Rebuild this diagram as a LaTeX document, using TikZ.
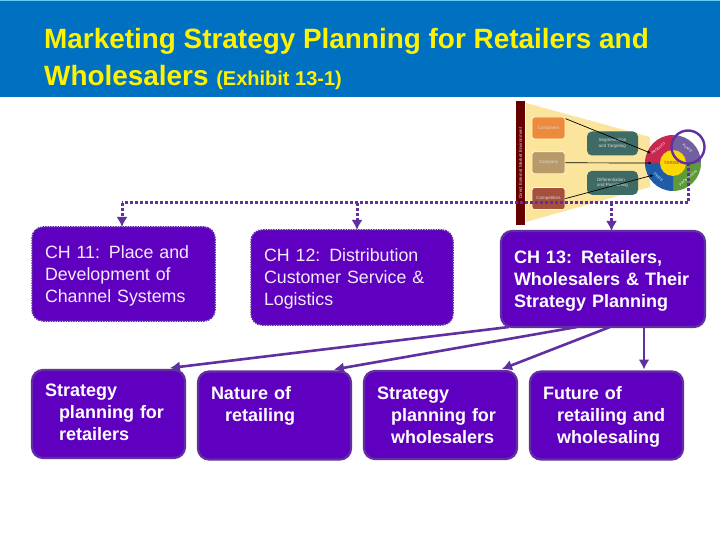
\documentclass[tikz,border=0pt]{standalone}
\usepackage{fontspec}
\setmainfont{Liberation Sans}
\usepackage{xcolor}
\usetikzlibrary{arrows.meta, calc, positioning, shapes.geometric}
\definecolor{bandblue}{HTML}{0070C0}
\definecolor{boxfill}{HTML}{5F00C0}
\definecolor{boxline}{HTML}{6030A0}
\definecolor{funnel}{HTML}{FBE49C}
\definecolor{slate}{HTML}{3F6B66}
\definecolor{custfill}{HTML}{EE8A3C}
\definecolor{compfill}{HTML}{B89A6A}
\definecolor{rivalfill}{HTML}{A64F3C}
\definecolor{wheelred}{HTML}{C8284F}
\definecolor{wheelviolet}{HTML}{7060A0}
\definecolor{wheelgreen}{HTML}{5F9A3A}
\definecolor{wheelblue}{HTML}{1F5CA8}
\tikzstyle{chbox} = [%
  rectangle,
  rounded corners=11pt,
  fill=boxfill,
  outer sep=0pt,
  text=white,
  align=left,
  inner xsep=13pt,
  inner ysep=0pt,
  execute at begin node={\rule{0pt}{17pt}},
  execute at end node={\rule[-4.4pt]{0pt}{5pt}}
]
\tikzstyle{chdot} = [%
  chbox,
  draw=boxline,
  line width=1.5pt,
  dash pattern=on 1.5pt off 1pt,
  text=white!92!boxfill,
  font=\fontsize{17.8}{22}\selectfont
]
\tikzstyle{chsolid} = [%
  chbox,
  draw=boxline,
  line width=2.2pt,
  font=\fontsize{18}{22}\bfseries\selectfont
]
\tikzstyle{subbox} = [%
  chsolid,
  minimum width=153pt,
  text width=127pt,
  minimum height=88pt,
  execute at begin node={\rule{0pt}{14pt}},
  execute at end node={\rule[-5pt]{0pt}{6pt}}
]
\tikzstyle{minibox} = [%
  rectangle,
  rounded corners=2.5pt,
  minimum width=33pt,
  minimum height=22pt,
  inner sep=0pt,
  text=white!85!black,
  font=\fontsize{4.5}{5.5}\selectfont,
  draw=white!80!yellow,
  line width=0.8pt
]
\tikzstyle{slatebox} = [%
  minibox,
  fill=slate,
  draw=none,
  minimum width=51pt,
  minimum height=24pt,
  align=left,
  rounded corners=5pt
]
\tikzstyle{wheeltext} = [%
  text=white,
  inner sep=0pt,
  font=\fontsize{3.5}{4}\selectfont
]

\begin{document}
\begin{tikzpicture}[%
  x=1pt,
  y=1pt,
  >={Latex[length=10pt,width=11pt]},
  link/.style={->,draw=boxline,line width=2.6pt},
  dotlink/.style={draw=boxline,line width=3pt,dash pattern=on 3pt off 2pt},
  thin arrow/.style={-{Latex[length=3pt,width=3pt]},draw=black,line width=0.7pt}
]

  \useasboundingbox (0,0) rectangle (720,-540);

  % Header
  \fill[bandblue] (0,0) rectangle (720,-97);
  \fill[cyan!60!white] (0,0) rectangle (720,-1);
  \node[anchor=north west,inner sep=0pt,text=yellow,align=left,
    font=\fontsize{27.9}{37}\bfseries\selectfont] (title) at (44,-28)
    {Marketing Strategy Planning for Retailers and\\
     Wholesalers {\fontsize{20}{37}\selectfont (Exhibit 13-1)}};

  % Strategy picture
  \fill[funnel] (526,-103) -- (650,-137) -- (650,-187) -- (526,-222) -- cycle;
  \node[rectangle,fill=red!40!black,minimum width=9pt,minimum height=124pt,inner sep=0pt,
    text=white!85!black,font=\fontsize{4.5}{5}\selectfont] (env) at (520.5,-163)
    {\rotatebox{90}{Direct External Market Environment}};
  \node[minibox,fill=custfill] (cust) at (548.5,-128) {Customers};
  \node[minibox,fill=compfill,below=12pt of cust] (comp) {Company};
  \node[minibox,fill=rivalfill,below=13pt of comp] (rivals) {Competitors};
  \node[slatebox] (seg) at (612.5,-143.5) {Segmentation\\and Targeting};
  \node[slatebox,below=14.5pt of seg] (diff) {Differentiation\\and Positioning};
  \coordinate (hub) at (673,-163);
  \foreach \ang/\col in {90/wheelred, 0/wheelviolet, 270/wheelgreen, 180/wheelblue} {
    \fill[\col] (hub) -- ++(\ang:28) arc[start angle=\ang,delta angle=90,radius=28] -- cycle;
  }
  \node[circle,fill=yellow!75!orange,minimum size=26pt,inner sep=0pt,text=orange!80!black,
    font=\fontsize{4.5}{5}\bfseries\selectfont] (target) at (hub) {TARGET};
  \node[wheeltext,rotate=40] (prod) at ($(hub)+(135:20.5)$) {PRODUCT};
  \node[wheeltext,rotate=-40] (place) at ($(hub)+(45:20.5)$) {PLACE};
  \node[wheeltext,rotate=-40] (price) at ($(hub)+(225:20.5)$) {PRICE};
  \node[wheeltext,rotate=40] (promo) at ($(hub)+(315:21.5)$) {PROMOTION};
  \node[circle,draw=boxline,line width=2.4pt,minimum size=33pt,inner sep=0pt,outer sep=0pt] (ring) at (688,-147) {};
  \draw[thin arrow] ([yshift=-2pt]cust.north east) to (prod.north west);
  \draw[thin arrow] (comp.east) to (hub -| prod.west);
  \draw[thin arrow] (rivals.east) to (price.south west);

  % Nodes
  \node[chdot,minimum width=183pt,text width=157pt,minimum height=94pt] (ch11) at (123.5,-274)
    {CH 11:  Place and\\Development of\\Channel Systems};
  \node[chdot,minimum width=202pt,text width=176pt,minimum height=95pt,right=36pt of ch11,yshift=-3.5pt] (ch12)
    {CH 12:  Distribution\\Customer Service \&\\Logistics};
  \node[chsolid,minimum width=204pt,text width=178pt,minimum height=96pt,right=48pt of ch12,yshift=-1.5pt] (ch13)
    {CH 13:  Retailers,\\Wholesalers \& Their\\Strategy Planning};
  \node[subbox,below=49pt of ch11.south west,anchor=north west,execute at end node={\rule[-9pt]{0pt}{1pt}}] (stratret)
    {Strategy\\\hspace*{14pt}planning for\\\hspace*{14pt}retailers};
  \node[subbox,right=13pt of stratret,yshift=-1.5pt] (nature)
    {Nature of\\\hspace*{14pt}retailing\\~};
  \node[subbox,right=13pt of nature,yshift=0.5pt] (stratwhole)
    {Strategy\\\hspace*{14pt}planning for\\\hspace*{14pt}wholesalers};
  \node[subbox,right=13pt of stratwhole,yshift=-0.5pt] (future)
    {Future of\\\hspace*{14pt}retailing and\\\hspace*{14pt}wholesaling};

  % Dotted feed from the place ring
  \coordinate (busl) at (122,-203);
  \draw[dotlink] (ring.south) |- (busl);
  \draw[dotlink,->] (busl) to (busl |- ch11.north);
  \draw[dotlink,->] ([xshift=5pt]busl -| ch12.north) to ([xshift=5pt]ch12.north);
  \draw[dotlink,->] ([xshift=8.5pt]busl -| ch13.north) to ([xshift=8.5pt]ch13.north);

  % Solid links
  \draw[link] ([xshift=8pt]ch13.south west) to ([xshift=-15pt,yshift=2pt]stratret.north east);
  \draw[link] ([xshift=76pt]ch13.south west) to ([xshift=-17pt,yshift=2pt]nature.north east);
  \draw[link] ([xshift=109pt]ch13.south west) to ([xshift=-15pt,yshift=2pt]stratwhole.north east);
  \draw[link] ([xshift=143pt]ch13.south west) to ([xshift=143pt,yshift=2pt]ch13.south west |- future.north);

\end{tikzpicture}
\end{document}
